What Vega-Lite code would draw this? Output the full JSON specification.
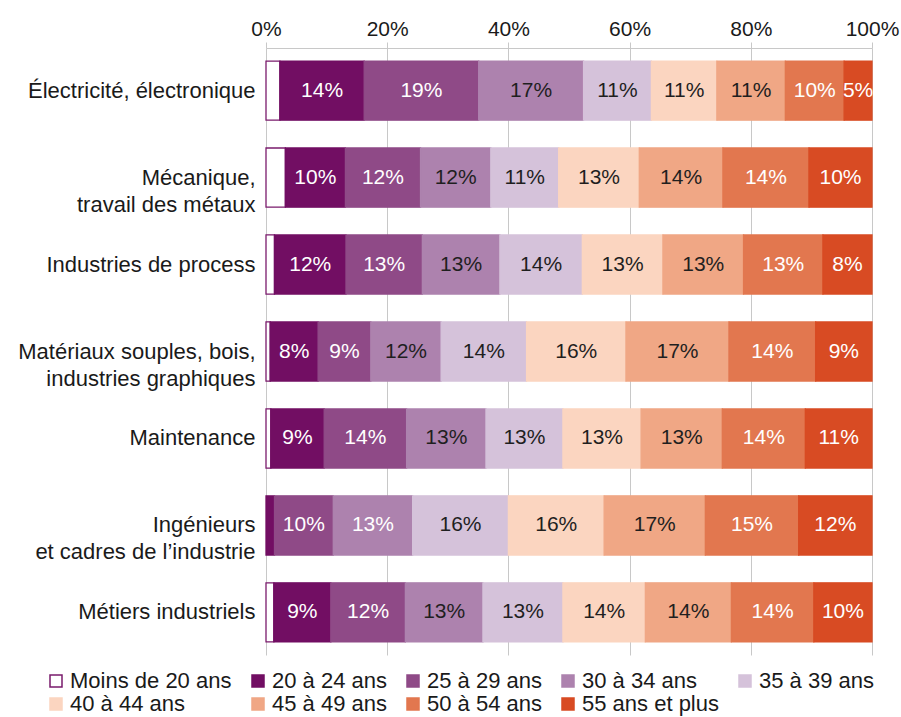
{
  "$schema": "https://vega.github.io/schema/vega-lite/v6.json",
  "width": 606,
  "height": 607,
  "autosize": {"type": "none"},
  "padding": {"left": 266, "top": 48, "right": 29, "bottom": 62},
  "background": "white",
  "config": {
    "font": "Liberation Sans",
    "view": {"stroke": null}
  },
  "data": {
    "values": [
      {"cat": "Électricité, électronique", "group": "Moins de 20 ans", "value": 0.023},
      {"cat": "Électricité, électronique", "group": "20 à 24 ans", "value": 0.139},
      {"cat": "Électricité, électronique", "group": "25 à 29 ans", "value": 0.189},
      {"cat": "Électricité, électronique", "group": "30 à 34 ans", "value": 0.173},
      {"cat": "Électricité, électronique", "group": "35 à 39 ans", "value": 0.112},
      {"cat": "Électricité, électronique", "group": "40 à 44 ans", "value": 0.108},
      {"cat": "Électricité, électronique", "group": "45 à 49 ans", "value": 0.113},
      {"cat": "Électricité, électronique", "group": "50 à 54 ans", "value": 0.097},
      {"cat": "Électricité, électronique", "group": "55 ans et plus", "value": 0.046},

      {"cat": "Mécanique,\ntravail des métaux", "group": "Moins de 20 ans", "value": 0.032},
      {"cat": "Mécanique,\ntravail des métaux", "group": "20 à 24 ans", "value": 0.099},
      {"cat": "Mécanique,\ntravail des métaux", "group": "25 à 29 ans", "value": 0.124},
      {"cat": "Mécanique,\ntravail des métaux", "group": "30 à 34 ans", "value": 0.116},
      {"cat": "Mécanique,\ntravail des métaux", "group": "35 à 39 ans", "value": 0.112},
      {"cat": "Mécanique,\ntravail des métaux", "group": "40 à 44 ans", "value": 0.133},
      {"cat": "Mécanique,\ntravail des métaux", "group": "45 à 49 ans", "value": 0.138},
      {"cat": "Mécanique,\ntravail des métaux", "group": "50 à 54 ans", "value": 0.142},
      {"cat": "Mécanique,\ntravail des métaux", "group": "55 ans et plus", "value": 0.104},

      {"cat": "Industries de process", "group": "Moins de 20 ans", "value": 0.014},
      {"cat": "Industries de process", "group": "20 à 24 ans", "value": 0.118},
      {"cat": "Industries de process", "group": "25 à 29 ans", "value": 0.126},
      {"cat": "Industries de process", "group": "30 à 34 ans", "value": 0.128},
      {"cat": "Industries de process", "group": "35 à 39 ans", "value": 0.136},
      {"cat": "Industries de process", "group": "40 à 44 ans", "value": 0.133},
      {"cat": "Industries de process", "group": "45 à 49 ans", "value": 0.133},
      {"cat": "Industries de process", "group": "50 à 54 ans", "value": 0.131},
      {"cat": "Industries de process", "group": "55 ans et plus", "value": 0.081},

      {"cat": "Matériaux souples, bois,\nindustries graphiques", "group": "Moins de 20 ans", "value": 0.007},
      {"cat": "Matériaux souples, bois,\nindustries graphiques", "group": "20 à 24 ans", "value": 0.079},
      {"cat": "Matériaux souples, bois,\nindustries graphiques", "group": "25 à 29 ans", "value": 0.087},
      {"cat": "Matériaux souples, bois,\nindustries graphiques", "group": "30 à 34 ans", "value": 0.116},
      {"cat": "Matériaux souples, bois,\nindustries graphiques", "group": "35 à 39 ans", "value": 0.141},
      {"cat": "Matériaux souples, bois,\nindustries graphiques", "group": "40 à 44 ans", "value": 0.164},
      {"cat": "Matériaux souples, bois,\nindustries graphiques", "group": "45 à 49 ans", "value": 0.170},
      {"cat": "Matériaux souples, bois,\nindustries graphiques", "group": "50 à 54 ans", "value": 0.143},
      {"cat": "Matériaux souples, bois,\nindustries graphiques", "group": "55 ans et plus", "value": 0.093},

      {"cat": "Maintenance", "group": "Moins de 20 ans", "value": 0.008},
      {"cat": "Maintenance", "group": "20 à 24 ans", "value": 0.088},
      {"cat": "Maintenance", "group": "25 à 29 ans", "value": 0.136},
      {"cat": "Maintenance", "group": "30 à 34 ans", "value": 0.131},
      {"cat": "Maintenance", "group": "35 à 39 ans", "value": 0.127},
      {"cat": "Maintenance", "group": "40 à 44 ans", "value": 0.129},
      {"cat": "Maintenance", "group": "45 à 49 ans", "value": 0.134},
      {"cat": "Maintenance", "group": "50 à 54 ans", "value": 0.137},
      {"cat": "Maintenance", "group": "55 ans et plus", "value": 0.110},

      {"cat": "Ingénieurs\net cadres de l’industrie", "group": "20 à 24 ans", "value": 0.014},
      {"cat": "Ingénieurs\net cadres de l’industrie", "group": "25 à 29 ans", "value": 0.097},
      {"cat": "Ingénieurs\net cadres de l’industrie", "group": "30 à 34 ans", "value": 0.131},
      {"cat": "Ingénieurs\net cadres de l’industrie", "group": "35 à 39 ans", "value": 0.158},
      {"cat": "Ingénieurs\net cadres de l’industrie", "group": "40 à 44 ans", "value": 0.158},
      {"cat": "Ingénieurs\net cadres de l’industrie", "group": "45 à 49 ans", "value": 0.167},
      {"cat": "Ingénieurs\net cadres de l’industrie", "group": "50 à 54 ans", "value": 0.154},
      {"cat": "Ingénieurs\net cadres de l’industrie", "group": "55 ans et plus", "value": 0.121},

      {"cat": "Métiers industriels", "group": "Moins de 20 ans", "value": 0.013},
      {"cat": "Métiers industriels", "group": "20 à 24 ans", "value": 0.094},
      {"cat": "Métiers industriels", "group": "25 à 29 ans", "value": 0.123},
      {"cat": "Métiers industriels", "group": "30 à 34 ans", "value": 0.128},
      {"cat": "Métiers industriels", "group": "35 à 39 ans", "value": 0.132},
      {"cat": "Métiers industriels", "group": "40 à 44 ans", "value": 0.136},
      {"cat": "Métiers industriels", "group": "45 à 49 ans", "value": 0.142},
      {"cat": "Métiers industriels", "group": "50 à 54 ans", "value": 0.136},
      {"cat": "Métiers industriels", "group": "55 ans et plus", "value": 0.096}
    ]
  },
  "transform": [
    {"calculate": "indexof(['Moins de 20 ans','20 à 24 ans','25 à 29 ans','30 à 34 ans','35 à 39 ans','40 à 44 ans','45 à 49 ans','50 à 54 ans','55 ans et plus'], datum.group)", "as": "ord"},
    {"stack": "value", "groupby": ["cat"], "sort": [{"field": "ord", "order": "ascending"}], "as": ["v0", "v1"]},
    {"calculate": "(datum.v0 + datum.v1) / 2", "as": "mid"}
  ],
  "encoding": {
    "y": {
      "field": "cat",
      "type": "nominal",
      "sort": ["Électricité, électronique", "Mécanique,\ntravail des métaux", "Industries de process", "Matériaux souples, bois,\nindustries graphiques", "Maintenance", "Ingénieurs\net cadres de l’industrie", "Métiers industriels"],
      "scale": {"paddingInner": 0.32, "paddingOuter": 0.15},
      "axis": {
        "title": null,
        "orient": "left",
        "domain": false,
        "ticks": false,
        "labelFontSize": 22,
        "labelColor": "#1a1a1a",
        "labelPadding": 11,
        "labelLimit": 400,
        "labelLineHeight": 27,
        "labelExpr": "split(datum.label, '\\n')"
      }
    }
  },
  "layer": [
    {
      "mark": {"type": "bar", "strokeWidth": 1.3},
      "encoding": {
        "x": {
          "field": "v0",
          "type": "quantitative",
          "scale": {"domain": [0, 1], "nice": false},
          "axis": {
            "title": null,
            "orient": "top",
            "values": [0, 0.2, 0.4, 0.6, 0.8, 1],
            "format": ".0%",
            "grid": true,
            "gridColor": "#c8c8c8",
            "gridWidth": 1,
            "domainColor": "#c8c8c8",
            "tickColor": "#c8c8c8",
            "tickSize": 6,
            "labelFontSize": 21,
            "labelColor": "#1a1a1a",
            "labelPadding": 3,
            "labelFlush": false
          }
        },
        "x2": {"field": "v1"},
        "fill": {
          "field": "group",
          "type": "nominal",
          "scale": {
            "domain": ["Moins de 20 ans", "20 à 24 ans", "25 à 29 ans", "30 à 34 ans", "35 à 39 ans", "40 à 44 ans", "45 à 49 ans", "50 à 54 ans", "55 ans et plus"],
            "range": ["#ffffff", "#720e63", "#8f4a87", "#ad82ae", "#d5c2da", "#fbd5c0", "#f0a785", "#e2774f", "#d84b23"]
          },
          "legend": {
            "title": null,
            "orient": "none",
            "legendX": -221,
            "legendY": 622,
            "direction": "horizontal",
            "columns": 5,
            "gridAlign": "each",
            "columnPadding": 15,
            "rowPadding": 1,
            "symbolType": "square",
            "symbolSize": 144,
            "symbolStrokeWidth": 1.5,
            "labelFontSize": 22,
            "labelColor": "#1a1a1a",
            "labelOffset": 3,
            "labelLimit": 400
          }
        },
        "stroke": {
          "field": "group",
          "type": "nominal",
          "scale": {
            "domain": ["Moins de 20 ans", "20 à 24 ans", "25 à 29 ans", "30 à 34 ans", "35 à 39 ans", "40 à 44 ans", "45 à 49 ans", "50 à 54 ans", "55 ans et plus"],
            "range": ["#7a1b6c", "#720e63", "#8f4a87", "#ad82ae", "#d5c2da", "#fbd5c0", "#f0a785", "#e2774f", "#d84b23"]
          },
          "legend": {
            "title": null,
            "orient": "none",
            "legendX": -221,
            "legendY": 622,
            "direction": "horizontal",
            "columns": 5,
            "gridAlign": "each",
            "columnPadding": 15,
            "rowPadding": 1,
            "symbolType": "square",
            "symbolSize": 144,
            "symbolStrokeWidth": 1.5,
            "labelFontSize": 22,
            "labelColor": "#1a1a1a",
            "labelOffset": 3,
            "labelLimit": 400
          }
        }
      }
    },
    {
      "transform": [{"filter": "datum.group != 'Moins de 20 ans' && datum.value >= 0.03"}],
      "mark": {"type": "text", "fontSize": 21, "align": "center", "baseline": "middle"},
      "encoding": {
        "x": {"field": "mid", "type": "quantitative"},
        "text": {"field": "value", "type": "quantitative", "format": ".0%"},
        "color": {
          "condition": {
            "test": "datum.group == '20 à 24 ans' || datum.group == '25 à 29 ans' || datum.group == '50 à 54 ans' || datum.group == '55 ans et plus' || (datum.group == '30 à 34 ans' && datum.cat == 'Ingénieurs\\net cadres de l’industrie')",
            "value": "#ffffff"
          },
          "value": "#1f1f1f"
        }
      }
    }
  ]
}
